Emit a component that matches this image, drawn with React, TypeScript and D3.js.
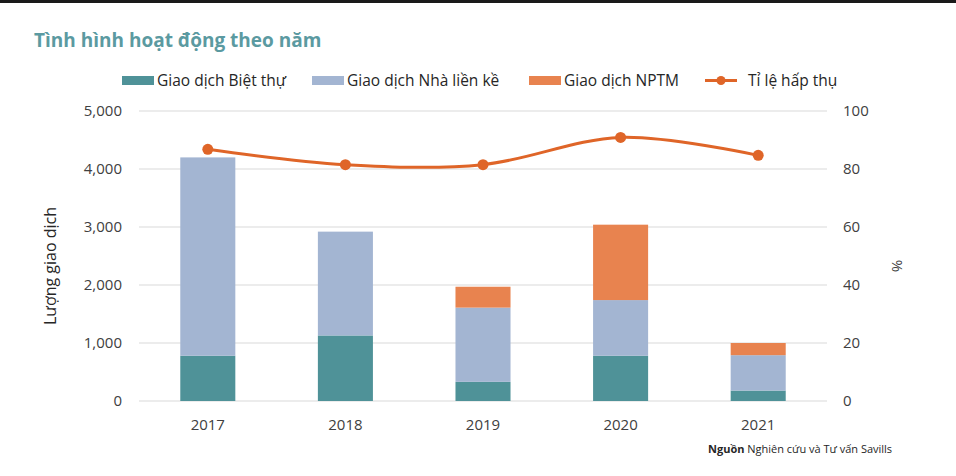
import React from "react";
import * as d3 from "d3";

const years = ["2017", "2018", "2019", "2020", "2021"];
const bietThu = [780, 1130, 330, 780, 180];
const nhaLienKe = [3420, 1790, 1280, 960, 610];
const nptm = [0, 0, 360, 1300, 210];
const tiLeHapThu = [86.8, 81.5, 81.5, 90.9, 84.7];
const leftTicks = [0, 1000, 2000, 3000, 4000, 5000];
const rightTicks = [0, 20, 40, 60, 80, 100];

const seriesNames = ["Giao dịch Biệt thự", "Giao dịch Nhà liền kề", "Giao dịch NPTM"];
const colors = ["#4f9298", "#a3b5d2", "#e8834f"];
const lineColor = "#df6528";
const font = "'Open Sans', 'Noto Sans', sans-serif";

export default function App() {
  const W = 956, H = 476;
  const x = d3.scaleBand().domain(years).range([139, 827]).paddingInner(0.6).paddingOuter(0.3);
  const y = d3.scaleLinear().domain([0, 5000]).range([401, 111]);
  const y2 = d3.scaleLinear().domain([0, 100]).range([401, 111]);

  const table = years.map((yr, i) => ({ year: yr, a: bietThu[i], b: nhaLienKe[i], c: nptm[i] }));
  const stacked = d3.stack<any>().keys(["a", "b", "c"])(table);

  const line = d3
    .line<number>()
    .x((_, i) => (x(years[i]) as number) + x.bandwidth() / 2)
    .y((d) => y2(d))
    .curve(d3.curveCardinal.tension(0));

  const fmt = d3.format(",");

  const legendItems = [
    { label: seriesNames[0], x: 122, type: "rect", color: colors[0] },
    { label: seriesNames[1], x: 312, type: "rect", color: colors[1] },
    { label: seriesNames[2], x: 529, type: "rect", color: colors[2] },
    { label: "Tỉ lệ hấp thụ", x: 705, type: "line", color: lineColor },
  ];

  return (
    <svg
      width={W}
      height={H}
      style={{ position: "absolute", left: 0, top: 0, background: "#fff", fontFamily: font }}
    >
      <rect x={0} y={0} width={W} height={H} fill="#fff" />
      <rect x={0} y={0} width={W} height={3} fill="#1a1a1a" />
      <text x={34} y={47} fontSize={19} fontWeight={700} fill="#5b9aa1">
        Tình hình hoạt động theo năm
      </text>

      {/* legend */}
      {legendItems.map((it, i) => (
        <g key={i}>
          {it.type === "rect" ? (
            <rect x={it.x} y={76} width={32} height={9} fill={it.color} />
          ) : (
            <g>
              <line x1={it.x} x2={it.x + 32} y1={80.5} y2={80.5} stroke={it.color} strokeWidth={3} />
              <circle cx={it.x + 16} cy={80.5} r={4.5} fill={it.color} />
            </g>
          )}
          <text x={it.x + (it.type === "rect" ? 35 : 43)} y={86} fontSize={15.5} fill="#262626">
            {it.label}
          </text>
        </g>
      ))}

      {/* gridlines */}
      {leftTicks.map((t) => (
        <line key={t} x1={139} x2={827} y1={y(t)} y2={y(t)} stroke="#d9d9d9" strokeWidth={1} />
      ))}

      {/* left ticks */}
      {leftTicks.map((t) => (
        <text key={t} x={122} y={y(t)} dy="0.35em" textAnchor="end" fontSize={15} fill="#404040">
          {fmt(t)}
        </text>
      ))}
      {/* right ticks */}
      {rightTicks.map((t) => (
        <text key={t} x={843} y={y2(t)} dy="0.35em" textAnchor="start" fontSize={15} fill="#404040">
          {t}
        </text>
      ))}

      <text
        transform={`translate(56,266) rotate(-90)`}
        textAnchor="middle"
        fontSize={16}
        fill="#262626"
      >
        Lượng giao dịch
      </text>
      <text transform={`translate(892,266) rotate(90)`} textAnchor="middle" fontSize={15} fill="#404040">
        %
      </text>

      {/* bars */}
      {stacked.map((s, si) =>
        s.map((d, i) => (
          <rect
            key={`${si}-${i}`}
            x={x(years[i])}
            width={x.bandwidth()}
            y={y(d[1])}
            height={Math.max(0, y(d[0]) - y(d[1]))}
            fill={colors[si]}
          />
        ))
      )}

      {/* x labels */}
      {years.map((yr) => (
        <text
          key={yr}
          x={(x(yr) as number) + x.bandwidth() / 2}
          y={425}
          dy="0.35em"
          textAnchor="middle"
          fontSize={15}
          fill="#404040"
        >
          {yr}
        </text>
      ))}

      {/* line */}
      <path d={line(tiLeHapThu) || ""} fill="none" stroke={lineColor} strokeWidth={3} />
      {tiLeHapThu.map((v, i) => (
        <circle key={i} cx={(x(years[i]) as number) + x.bandwidth() / 2} cy={y2(v)} r={5.5} fill={lineColor} />
      ))}

      <text x={708} y={453} fontSize={11} fill="#262626">
        <tspan fontWeight={700}>Nguồn</tspan> Nghiên cứu và Tư vấn Savills
      </text>
    </svg>
  );
}
